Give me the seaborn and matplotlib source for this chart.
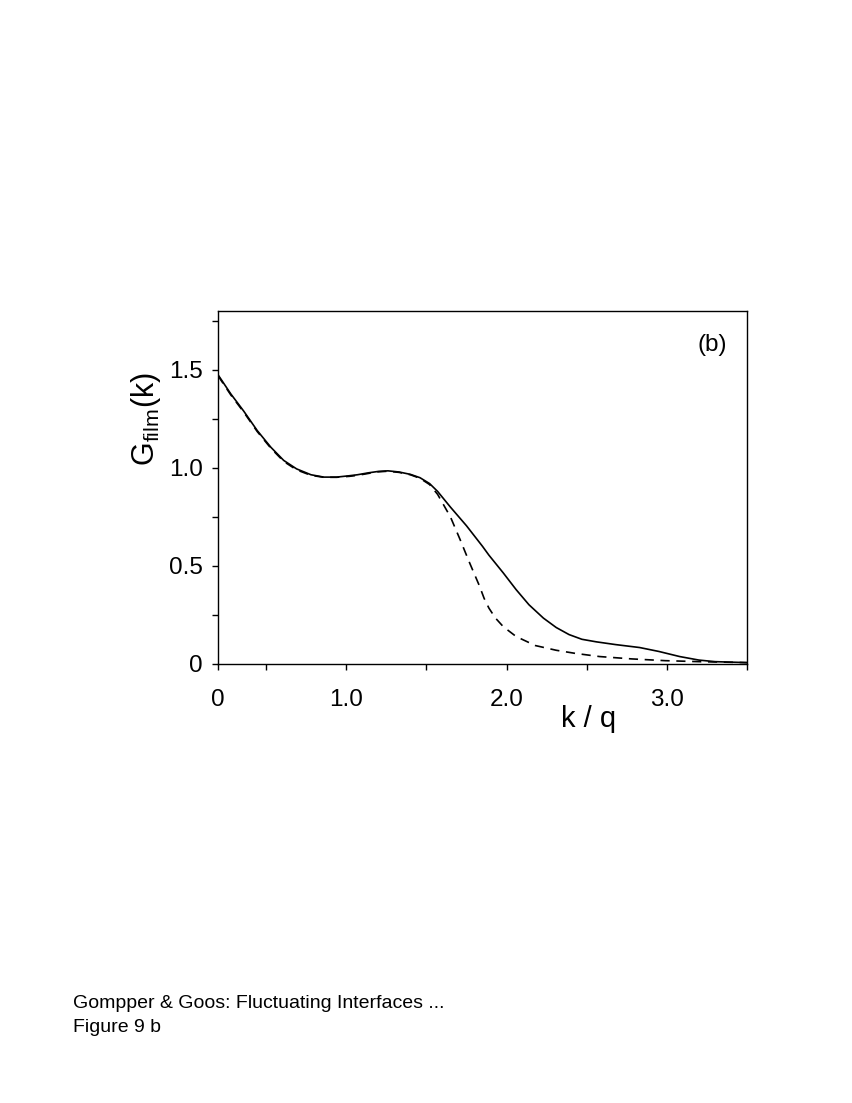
import matplotlib
matplotlib.use("Agg")
import matplotlib.pyplot as plt
import seaborn as sns

# values
k_full = [0.20, 0.28, 0.36, 0.445, 0.53, 0.61, 0.69, 0.78, 0.86, 0.94, 1.02, 1.07, 1.14,
          1.20, 1.26, 1.33, 1.40, 1.46, 1.52, 1.57, 1.65, 1.75, 1.85, 1.89, 1.98, 2.06,
          2.14, 2.23, 2.31, 2.39, 2.47, 2.56, 2.68, 2.83, 2.95, 3.08, 3.20, 3.30, 3.50]
G_full = [1.475, 1.377, 1.29, 1.19, 1.105, 1.038, 0.995, 0.965, 0.953, 0.953, 0.96, 0.965,
          0.975, 0.982, 0.985, 0.979, 0.967, 0.95, 0.92, 0.88, 0.80, 0.705, 0.60, 0.555,
          0.464, 0.379, 0.302, 0.234, 0.186, 0.15, 0.126, 0.113, 0.099, 0.084, 0.064,
          0.038, 0.02, 0.012, 0.007]

k_approx = [0.20, 0.28, 0.36, 0.445, 0.53, 0.61, 0.69, 0.78, 0.86, 0.94, 1.02, 1.07, 1.14,
            1.20, 1.26, 1.33, 1.40, 1.46, 1.52, 1.57, 1.65, 1.71, 1.77, 1.83, 1.86, 1.89,
            1.93, 1.98, 2.06, 2.18, 2.31, 2.43, 2.58, 2.78, 2.99, 3.20, 3.50]
G_approx = [1.47, 1.372, 1.285, 1.185, 1.10, 1.033, 0.99, 0.962, 0.952, 0.952, 0.957, 0.962,
            0.972, 0.98, 0.983, 0.977, 0.965, 0.947, 0.915, 0.865, 0.75, 0.635, 0.515, 0.40,
            0.335, 0.285, 0.235, 0.19, 0.14, 0.094, 0.07, 0.054, 0.038, 0.026, 0.017,
            0.012, 0.007]

x_ticks = [0.2, 1.0, 2.0, 3.0]
x_ticklabels = ["0", "1.0", "2.0", "3.0"]
x_minor = [0.5, 1.5, 2.5, 3.5]
y_ticks = [0, 0.5, 1.0, 1.5]
y_ticklabels = ["0", "0.5", "1.0", "1.5"]
y_minor = [0.25, 0.75, 1.25, 1.75]

sns.set_style("white")
plt.rcParams['font.family'] = ['Liberation Sans', 'DejaVu Sans']
plt.rcParams['mathtext.fontset'] = 'custom'
plt.rcParams['mathtext.rm'] = 'Liberation Sans'
plt.rcParams['text.color'] = 'black'
plt.rcParams['axes.labelcolor'] = 'black'
plt.rcParams['xtick.color'] = 'black'
plt.rcParams['ytick.color'] = 'black'

fig = plt.figure(figsize=(8.53, 11.03), dpi=100)
ax = fig.add_axes([218 / 853, 1 - 664 / 1103, 529 / 853, 353 / 1103])

sns.lineplot(x=k_full, y=G_full, ax=ax, color="black", lw=1.2, estimator=None, sort=False)
sns.lineplot(x=k_approx, y=G_approx, ax=ax, color="black", lw=1.2, estimator=None,
             sort=False, linestyle=(0, (5.5, 4)))

ax.set_xlim(0.2, 3.5)
ax.set_ylim(0, 1.8)
ax.set_xticks(x_ticks)
ax.set_xticklabels(x_ticklabels)
ax.set_xticks(x_minor, minor=True)
ax.set_yticks(y_ticks)
ax.set_yticklabels(y_ticklabels)
ax.set_yticks(y_minor, minor=True)
ax.tick_params(which="both", direction="out", length=4, width=1, color="black",
               bottom=True, left=True, top=False, right=False)
ax.tick_params(axis="x", which="major", pad=14, labelsize=17.5)
ax.tick_params(axis="y", which="major", pad=7, labelsize=17.5)

for s in ax.spines.values():
    s.set_color("black")
    s.set_linewidth(1.0)

ax.set_ylabel(r"G$_{\mathrm{film}}$(k)", fontsize=22)
ax.yaxis.set_label_coords(-0.104, 0.694)
ax.set_xlabel("k / q", fontsize=21)
ax.xaxis.set_label_coords(0.70, -0.115)

ax.text(0.934, 0.904, "(b)", transform=ax.transAxes, fontsize=17.5, ha="center", va="center")

fig.text(73 / 853, 1 - 1008 / 1103, "Gompper & Goos: Fluctuating Interfaces ...", fontsize=14,
         va="baseline")
fig.text(73 / 853, 1 - 1032 / 1103, "Figure 9 b", fontsize=14, va="baseline")

fig.savefig("out.png", dpi=100)
